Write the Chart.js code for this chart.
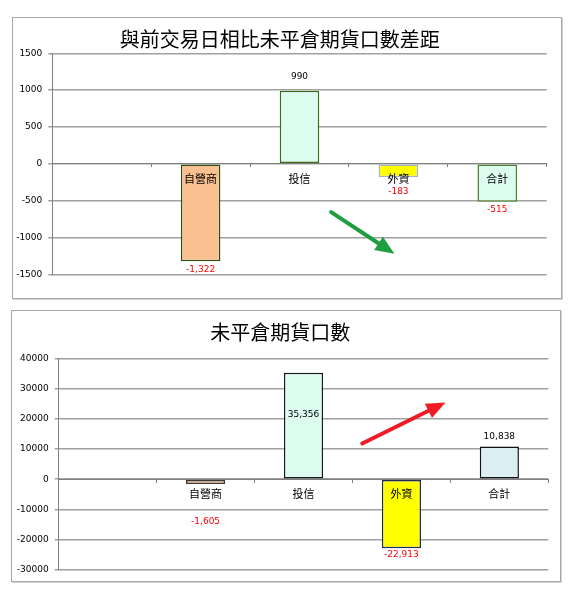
<!DOCTYPE html>
<html>
<head>
<meta charset="utf-8">
<script src="https://cdn.jsdelivr.net/npm/chart.js@4.4.1/dist/chart.umd.min.js"></script>
<style>
  html, body { margin: 0; padding: 0; background: #fff; }
  .box { position: absolute; border: 1px solid #a6a6a6; box-shadow: 1px 1px 0 #d4d4d4; background: #fff; }
  #box-diff { left: 12px; top: 17px; width: 548px; height: 280px; }
  #box-oi { left: 11px; top: 310px; width: 548px; height: 270px; }
  canvas { display: block; }
</style>
</head>
<body>
<div class="box" id="box-diff"><canvas id="chart-diff" width="548" height="280"></canvas></div>
<div class="box" id="box-oi"><canvas id="chart-oi" width="548" height="270"></canvas></div>
<script>
  // data
  const categories = ['', '自營商', '投信', '外資', '合計'];
  const diffValues = [null, -1322, 990, -183, -515];
  const oiValues = [null, -1605, 35356, -22913, 10838];
  const diffTitle = '與前交易日相比未平倉期貨口數差距';
  const oiTitle = '未平倉期貨口數';
  const diffRange = [-1500, 1500, 500];
  const oiRange = [-30000, 40000, 10000];

  const CJK = '"Noto Sans CJK TC", "Noto Sans CJK SC", sans-serif';
  Chart.defaults.font.family = '"DejaVu Sans", sans-serif';

  const valueLabelPlugin = {
    id: 'valueLabels',
    afterDatasetsDraw(chart, args, opts) {
      const ctx = chart.ctx;
      const meta = chart.getDatasetMeta(0);
      const values = chart.data.datasets[0].data;
      ctx.save();
      ctx.font = '9px "DejaVu Sans", sans-serif';
      ctx.textAlign = 'center';
      ctx.textBaseline = 'middle';
      meta.data.forEach((bar, i) => {
        const v = values[i];
        if (v == null) return;
        ctx.fillStyle = v < 0 ? '#ff0000' : '#000000';
        ctx.fillText(v.toLocaleString('en-US'), bar.x, bar.y + (opts.offsets[i] || 0));
      });
      ctx.restore();
    }
  };

  // decorative arrow, placed in axis units (category index, value)
  const arrowPlugin = {
    id: 'arrow',
    afterDraw(chart, args, opts) {
      if (!opts.from) return;
      const { x, y } = chart.scales;
      const x1 = x.getPixelForValue(opts.from[0]);
      const y1 = y.getPixelForValue(opts.from[1]);
      const x2 = x.getPixelForValue(opts.to[0]);
      const y2 = y.getPixelForValue(opts.to[1]);
      const ang = Math.atan2(y2 - y1, x2 - x1);
      const headLen = 19, headHalf = 8;
      const bx = x2 - headLen * Math.cos(ang);
      const by = y2 - headLen * Math.sin(ang);
      const ctx = chart.ctx;
      ctx.save();
      ctx.strokeStyle = opts.color;
      ctx.fillStyle = opts.color;
      ctx.lineWidth = 4;
      ctx.lineCap = 'round';
      ctx.beginPath();
      ctx.moveTo(x1, y1);
      ctx.lineTo(bx + 3 * Math.cos(ang), by + 3 * Math.sin(ang));
      ctx.stroke();
      ctx.beginPath();
      ctx.moveTo(x2, y2);
      ctx.lineTo(bx + headHalf * Math.sin(ang), by - headHalf * Math.cos(ang));
      ctx.lineTo(bx - headHalf * Math.sin(ang), by + headHalf * Math.cos(ang));
      ctx.closePath();
      ctx.fill();
      ctx.restore();
    }
  };

  function createChart(canvasId, cfg) {
    const canvas = document.getElementById(canvasId);
    return new Chart(canvas, {
      type: 'bar',
      data: {
        labels: categories,
        datasets: [{
          data: cfg.values,
          backgroundColor: cfg.fills,
          borderColor: cfg.borders,
          borderWidth: 1.5,
          borderSkipped: false,
          barPercentage: 0.4,
          categoryPercentage: 1,
        }],
      },
      options: {
        responsive: false,
        animation: false,
        layout: { padding: { left: 0, right: cfg.padRight, top: 0, bottom: cfg.padBottom } },
        plugins: {
          legend: { display: false },
          tooltip: { enabled: false },
          title: {
            display: true,
            text: cfg.title,
            color: '#000',
            font: { family: CJK, size: 20, weight: 'normal', lineHeight: 1.2 },
            padding: { top: cfg.titleTop, bottom: cfg.titleBottom },
          },
          valueLabels: { offsets: cfg.labelOffsets },
          arrow: cfg.arrow,
        },
        scales: {
          x: {
            position: { y: 0 },
            grid: { offset: true, drawOnChartArea: false, drawTicks: true, tickLength: 3, color: '#808080', lineWidth: 1, z: 1 },
            border: { color: '#808080', width: 1, z: 1 },
            ticks: { font: { family: CJK, size: 11 }, color: '#000', padding: 5, maxRotation: 0, autoSkip: false, z: 1 },
          },
          y: {
            min: cfg.range[0],
            max: cfg.range[1],
            ticks: { stepSize: cfg.range[2], color: '#000', font: { size: 9 }, padding: 6, callback: (v) => String(v) },
            grid: { color: '#a0a0a0', lineWidth: 1.5, tickLength: 4 },
            border: { color: '#808080', width: 1 },
            afterFit(scale) { scale.width = cfg.axisWidth; },
          },
        },
      },
      plugins: [valueLabelPlugin, arrowPlugin],
    });
  }

  createChart('chart-diff', {
    values: diffValues,
    title: diffTitle,
    range: diffRange,
    fills: ['#ffffff', '#fac090', '#dcfcf0', '#ffff00', '#dcfcf0'],
    borders: ['#000000', '#2f4f1a', '#3b6b16', '#a8b4c4', '#4f7f2a'],
    labelOffsets: [0, 8, -14, 14, 8],
    axisWidth: 39.3,
    padRight: 14.3,
    padBottom: 23.7,
    titleTop: 9.2,
    titleBottom: 2.1,
    arrow: { from: [2.32, -657], to: [2.96, -1222], color: '#1e9e3e' },
  });

  createChart('chart-oi', {
    values: oiValues,
    title: oiTitle,
    range: oiRange,
    fills: ['#ffffff', '#fac090', '#dcfcf0', '#ffff00', '#dbeef4'],
    borders: ['#000000', '#3a3a3a', '#1a1a1a', '#1f2a5c', '#111111'],
    labelOffsets: [0, 38, 41.5, 6.5, -9.5],
    axisWidth: 46.7,
    padRight: 11.7,
    padBottom: 10.5,
    titleTop: 9.2,
    titleBottom: 14.5,
    arrow: { from: [2.6, 11870], to: [3.45, 25490], color: '#ee1c25' },
  });
</script>
</body>
</html>
